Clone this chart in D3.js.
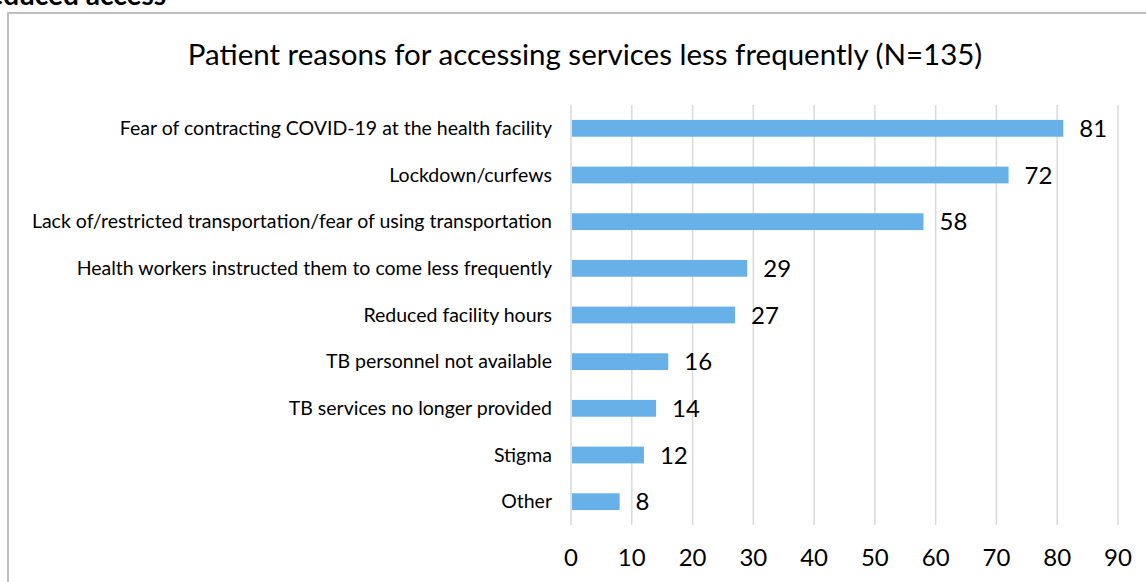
<!DOCTYPE html>
<html>
<head>
<meta charset="utf-8">
<script src="https://cdn.jsdelivr.net/npm/d3@7"></script>
<style>
  body { margin: 0; background: #fff; }
  svg { display: block; font-family: Lato, "Open Sans", sans-serif; }
</style>
</head>
<body>
<div id="chart"></div>
<script>
const categories = [
  'Fear of contracting COVID-19 at the health facility',
  'Lockdown/curfews',
  'Lack of/restricted transportation/fear of using transportation',
  'Health workers instructed them to come less frequently',
  'Reduced facility hours',
  'TB personnel not available',
  'TB services no longer provided',
  'Stigma',
  'Other'
];
const values = [81, 72, 58, 29, 27, 16, 14, 12, 8];
const xTicks = [0, 10, 20, 30, 40, 50, 60, 70, 80, 90];
const title = 'Patient reasons for accessing services less frequently (N=135)';
const heading = 'Reduced access';

const width = 1146;
const height = 582;

const svg = d3.select('#chart')
  .append('svg')
  .attr('width', width)
  .attr('height', height);

// section heading above the frame, clipped by the page edge like the source
svg.append('text')
  .attr('x', 166)
  .attr('y', 5)
  .attr('text-anchor', 'end')
  .style('font-size', '28px')
  .style('font-weight', 'bold')
  .text(heading);

// chart frame (runs off right/bottom)
svg.append('rect')
  .attr('x', 8)
  .attr('y', 13)
  .attr('width', 1160)
  .attr('height', 600)
  .attr('fill', 'none')
  .attr('stroke', '#bfbfbf')
  .attr('stroke-width', 2);

svg.append('text')
  .attr('x', 585)
  .attr('y', 65)
  .attr('text-anchor', 'middle')
  .style('font-size', '29.5px')
  .style('fill', '#000')
  .text(title);

const x = d3.scaleLinear()
  .domain([0, 90])
  .range([571, 1118]);

const y = d3.scaleBand()
  .domain(categories)
  .range([105, 525])
  .paddingInner(0.64)
  .paddingOuter(0.32);

// gridlines
svg.selectAll('.grid')
  .data(xTicks)
  .enter()
  .append('line')
  .attr('x1', d => x(d))
  .attr('x2', d => x(d))
  .attr('y1', 105)
  .attr('y2', 525)
  .attr('stroke', '#d9d9d9')
  .attr('stroke-width', 1.5);

// x tick labels
svg.selectAll('.xtick')
  .data(xTicks)
  .enter()
  .append('text')
  .attr('x', d => x(d))
  .attr('y', 558)
  .attr('dy', '0.35em')
  .attr('text-anchor', 'middle')
  .style('font-size', '24px')
  .text(d => d);

// bars
svg.selectAll('.bar')
  .data(values)
  .enter()
  .append('rect')
  .attr('x', x(0) + 1)
  .attr('y', (d, i) => y(categories[i]))
  .attr('width', d => x(d) - x(0) - 1)
  .attr('height', y.bandwidth())
  .attr('fill', '#67b1e8');

// value labels
svg.selectAll('.val')
  .data(values)
  .enter()
  .append('text')
  .attr('x', d => x(d) + 16)
  .attr('y', (d, i) => y(categories[i]) + y.bandwidth() / 2)
  .attr('dy', '0.36em')
  .style('font-size', '24px')
  .text(d => d);

// category labels
svg.selectAll('.cat')
  .data(categories)
  .enter()
  .append('text')
  .attr('x', 552)
  .attr('y', d => y(d) + y.bandwidth() / 2)
  .attr('dy', '0.35em')
  .attr('text-anchor', 'end')
  .style('font-size', '19.5px')
  .text(d => d);
</script>
</body>
</html>
